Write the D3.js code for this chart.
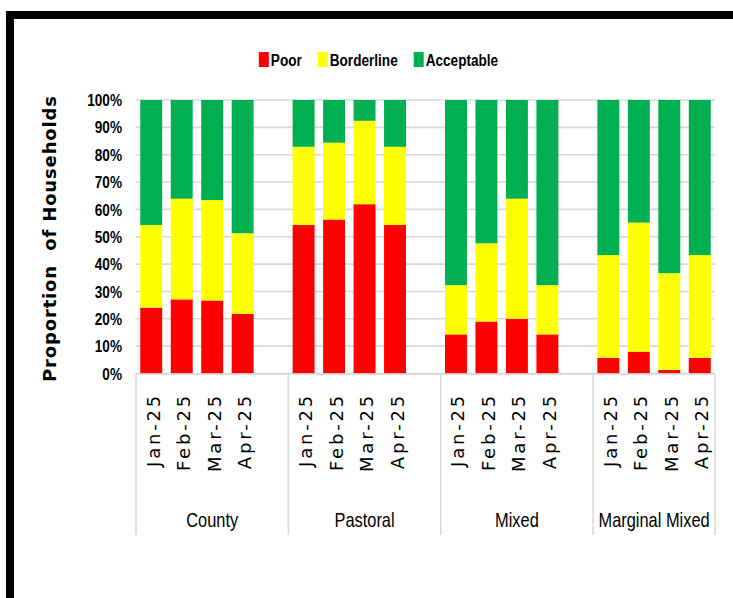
<!DOCTYPE html>
<html>
<head>
<meta charset="utf-8">
<script src="https://cdn.jsdelivr.net/npm/d3@7"></script>
<style>
  body { margin: 0; background: #fff; }
  .narrow { font-family: 'Liberation Sans', Arial, sans-serif; }
  .wide { font-family: 'DejaVu Sans', Verdana, sans-serif; }
</style>
</head>
<body>
<div id="chart"></div>
<script>
var groups = ['County', 'Pastoral', 'Mixed', 'Marginal Mixed'];
var months = ['Jan-25', 'Feb-25', 'Mar-25', 'Apr-25'];
var series = ['Poor', 'Borderline', 'Acceptable'];
var colors = ['#FF0000', '#FFFF00', '#00B050'];

// values in %, per group then month
var poor = [24.1, 27.1, 26.7, 21.8,  54.3, 56.3, 61.9, 54.3,  14.3, 19.0, 20.0, 14.3,  5.7, 8.0, 1.3, 5.7];
var borderline = [30.2, 36.8, 36.7, 29.5,  28.6, 28.1, 30.5, 28.6,  18.0, 28.6, 43.9, 18.0,  37.6, 47.2, 35.4, 37.6];
var acceptable = [45.7, 36.1, 36.6, 48.7,  17.1, 15.6, 7.6, 17.1,  67.7, 52.4, 36.1, 67.7,  56.7, 44.8, 63.3, 56.7];
var yTicks = [0, 10, 20, 30, 40, 50, 60, 70, 80, 90, 100];

var width = 733, height = 598;
var plot = { left: 136, right: 715, top: 100, bottom: 373.5 };
var squeeze = 0.8; // condensed look for the Calibri-like labels

var svg = d3.select('#chart').append('svg')
	.attr('width', width)
	.attr('height', height);

svg.append('rect').attr('width', width).attr('height', height).attr('fill', '#fff');

// frame (thick black border on top & left)
svg.append('rect')
	.attr('x', 10).attr('y', 15)
	.attr('width', width + 20).attr('height', height + 20)
	.attr('fill', 'none')
	.attr('stroke', '#000')
	.attr('stroke-width', 8);

// build slots: 4 bars per group + an empty slot between groups
var slots = [];
var rows = [];
groups.forEach(function(g, gi) {
	months.forEach(function(m, mi) {
		var i = gi * 4 + mi;
		var key = g + '|' + m;
		slots.push(key);
		rows.push({ key: key, group: g, month: m, Poor: poor[i], Borderline: borderline[i], Acceptable: acceptable[i] });
	});
	if (gi < groups.length - 1) slots.push('gap' + gi);
});

var x = d3.scaleBand()
	.domain(slots)
	.range([plot.left, plot.right])
	.paddingInner(0.28)
	.paddingOuter(0.14);

var y = d3.scaleLinear()
	.domain([0, 100])
	.range([plot.bottom, plot.top]);

// gridlines
svg.append('g')
	.selectAll('line')
	.data(yTicks)
	.enter().append('line')
	.attr('x1', plot.left).attr('x2', plot.right)
	.attr('y1', function(d) { return y(d); })
	.attr('y2', function(d) { return y(d); })
	.attr('stroke', '#D9D9D9')
	.attr('stroke-width', 1.6);

// y tick labels
svg.append('g')
	.selectAll('g')
	.data(yTicks)
	.enter().append('g')
	.attr('transform', function(d) { return 'translate(122,' + y(d) + ') scale(' + squeeze + ',1)'; })
	.append('text')
	.attr('class', 'narrow')
	.attr('dy', '0.36em')
	.attr('text-anchor', 'end')
	.attr('font-size', 17)
	.attr('font-weight', 'bold')
	.attr('fill', '#000')
	.text(function(d) { return d + '%'; });

// stacked bars
var stack = d3.stack().keys(series);
var layers = stack(rows);

svg.append('g')
	.selectAll('g')
	.data(layers)
	.enter().append('g')
	.attr('fill', function(d, i) { return colors[i]; })
	.selectAll('rect')
	.data(function(d) { return d; })
	.enter().append('rect')
	.attr('x', function(d) { return x(d.data.key); })
	.attr('width', x.bandwidth())
	.attr('y', function(d) { return y(d[1]); })
	.attr('height', function(d) { return y(d[0]) - y(d[1]); });

// category axis
var axisY = plot.bottom + 0.5;
svg.append('line')
	.attr('x1', plot.left).attr('x2', plot.right)
	.attr('y1', axisY).attr('y2', axisY)
	.attr('stroke', '#D9D9D9').attr('stroke-width', 1.6);

// group separators
var step = x.step();
var groupEdges = [plot.left];
groups.forEach(function(g, gi) {
	var lastKey = g + '|' + months[months.length - 1];
	groupEdges.push(gi < groups.length - 1 ? x(lastKey) - x.paddingOuter() * step + 2 * step : plot.right);
});

svg.append('g')
	.selectAll('line')
	.data(groupEdges)
	.enter().append('line')
	.attr('x1', function(d) { return d; })
	.attr('x2', function(d) { return d; })
	.attr('y1', axisY).attr('y2', 535)
	.attr('stroke', '#D9D9D9').attr('stroke-width', 1.6);

// month labels
svg.append('g')
	.selectAll('text')
	.data(rows)
	.enter().append('text')
	.attr('class', 'wide')
	.attr('transform', function(d) {
		return 'translate(' + (x(d.key) + x.bandwidth() / 2 + 2) + ',393) rotate(-90)';
	})
	.attr('dy', '0.36em')
	.attr('text-anchor', 'end')
	.attr('font-size', 18)
	.attr('letter-spacing', 2.8)
	.attr('fill', '#000')
	.text(function(d) { return d.month; });

// group labels
svg.append('g')
	.selectAll('g')
	.data(groups)
	.enter().append('g')
	.attr('transform', function(d, i) {
		return 'translate(' + (groupEdges[i] + groupEdges[i + 1]) / 2 + ',527) scale(' + squeeze + ',1)';
	})
	.append('text')
	.attr('class', 'narrow')
	.attr('text-anchor', 'middle')
	.attr('font-size', 20.5)
	.attr('fill', '#000')
	.text(function(d) { return d; });

// y axis title
svg.append('text')
	.attr('class', 'wide')
	.attr('transform', 'translate(56,239) rotate(-90)')
	.attr('text-anchor', 'middle')
	.attr('font-size', 18)
	.attr('font-weight', 'bold')
	.attr('textLength', 286)
	.attr('lengthAdjust', 'spacing')
	.attr('fill', '#000')
	.style('white-space', 'pre')
	.text('Proportion  of Households');

// legend
var legend = svg.append('g').attr('class', 'legend');
var item = legend.selectAll('g')
	.data(series)
	.enter().append('g');

item.append('rect')
	.attr('width', 10).attr('height', 15)
	.attr('y', 52)
	.attr('fill', function(d, i) { return colors[i]; });

item.append('g')
	.attr('transform', 'translate(12,66) scale(' + squeeze + ',1)')
	.append('text')
	.attr('class', 'narrow')
	.attr('font-size', 17)
	.attr('font-weight', 'bold')
	.attr('fill', '#000')
	.text(function(d) { return d; });

var offsets = [];
var cursor = 0;
item.each(function() {
	offsets.push(cursor);
	cursor += 12 + d3.select(this).select('text').node().getComputedTextLength() * squeeze + 16;
});
var legendStart = 378.5 - (cursor - 16) / 2;
item.attr('transform', function(d, i) { return 'translate(' + (legendStart + offsets[i]) + ',0)'; });
</script>
</body>
</html>
